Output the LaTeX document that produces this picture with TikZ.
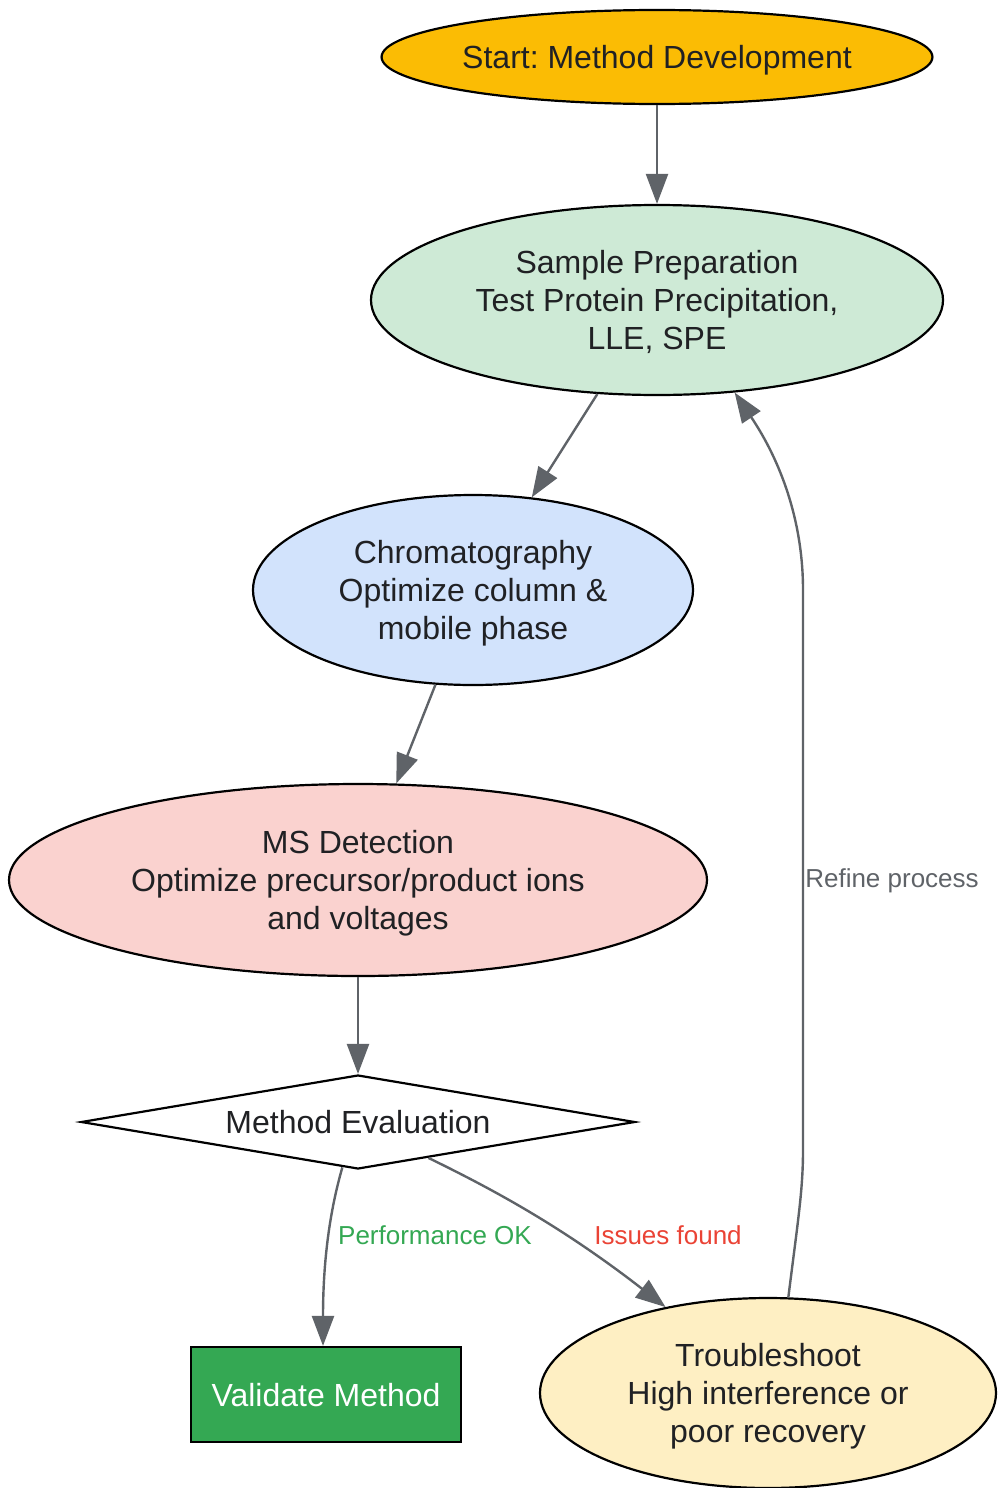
\documentclass[tikz,border=0pt]{standalone}
\usepackage{fontspec}
\setmainfont{Liberation Sans}
\frenchspacing
\usetikzlibrary{shapes.geometric,arrows.meta}
\definecolor{cstart}{HTML}{FBBC04}
\definecolor{csample}{HTML}{CEEAD6}
\definecolor{cchrom}{HTML}{D2E3FC}
\definecolor{cms}{HTML}{FAD2CF}
\definecolor{ctrouble}{HTML}{FEEFC3}
\definecolor{cvalid}{HTML}{34A853}
\definecolor{cedge}{HTML}{5F6368}
\definecolor{ctext}{HTML}{202124}
\definecolor{cred}{HTML}{EA4335}
\newcommand{\mlines}[1]{\raisebox{-2pt}[\height][\depth]{\begin{tabular}{@{}c@{}}#1\end{tabular}}}
\begin{document}
\begin{tikzpicture}[x=0.5pt,y=-0.5pt,
  every node/.style={font=\fontsize{16pt}{19pt}\selectfont, text=ctext},
  ell/.style={ellipse, draw=black, line width=1.1pt, inner sep=0pt},
  edge/.style={draw=cedge, line width=1.2pt, -{Triangle[length=15pt,width=11pt]}},
  elabel/.style={font=\fontsize{13pt}{15pt}\selectfont}
]
\useasboundingbox (0,0) rectangle (997,1488);
\node[ell, fill=cstart, minimum width=273pt, minimum height=47pt] (start) at (657,57) {\mlines{Start: Method Development}};
\node[ell, fill=csample, minimum width=286pt, minimum height=95pt] (sp) at (657,300) {\mlines{Sample Preparation\\Test Protein Precipitation,\\LLE, SPE}};
\node[ell, fill=cchrom, minimum width=220pt, minimum height=95pt] (ch) at (473,590) {\mlines{Chromatography\\Optimize column \&\\mobile phase}};
\node[ell, fill=cms, minimum width=349pt, minimum height=96pt] (ms) at (358,880) {\mlines{MS Detection\\Optimize precursor/product ions\\and voltages}};
\node[diamond, aspect=5.9, draw=black, line width=1.1pt, fill=white, inner sep=0pt, minimum width=277pt, minimum height=47pt] (d) at (358,1122) {\mlines{Method Evaluation}};
\node[rectangle, draw=black, line width=1.1pt, fill=cvalid, text=white, minimum width=135pt, minimum height=47.5pt, inner sep=0pt] (v) at (326,1394.5) {\mlines{Validate Method}};
\node[ell, fill=ctrouble, minimum width=228pt, minimum height=95pt] (t) at (768,1393) {\mlines{Troubleshoot\\High interference or\\poor recovery}};

\draw[edge] (start) -- (sp);
\draw[edge] (sp) -- (ch);
\draw[edge] (ch) -- (ms);
\draw[edge] (ms) -- (d);
\draw[edge] (d.251) .. controls (330,1210) and (323,1260) .. (v.north -| 323,0);
\draw[edge] (d.333) .. controls (490,1188) and (560,1225) .. (t.140);
\draw[edge] (t.78) .. controls (798,1220) and (803,1190) .. (803,1150) -- (803,590) .. controls (803,520) and (780,460) .. (sp.310);

\node[elabel, text=cvalid] (lok) at (435,1235) {Performance OK};
\node[elabel, text=cred] (liss) at (668,1235) {Issues found};
\node[elabel, text=cedge] (lref) at (892,881) {Refine process};
\end{tikzpicture}
\end{document}
